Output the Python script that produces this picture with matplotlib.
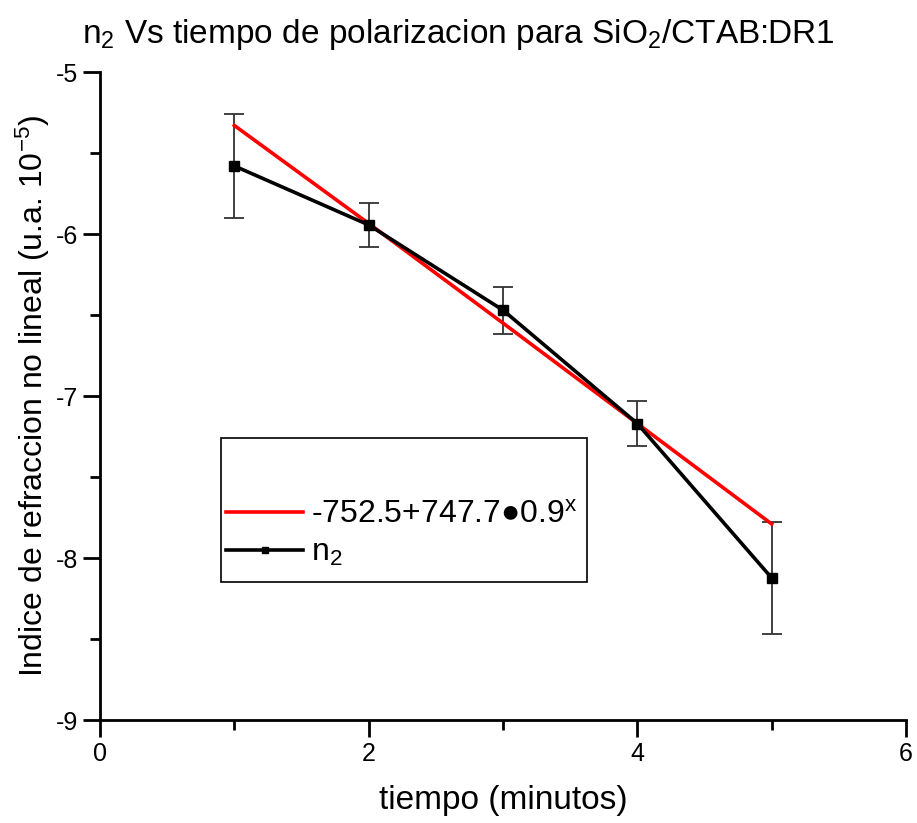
import matplotlib
matplotlib.use("Agg")
import matplotlib.pyplot as plt
from matplotlib.patches import Rectangle
from matplotlib.ticker import MultipleLocator

plt.rcParams['font.family'] = ['Liberation Sans', 'DejaVu Sans']
plt.rcParams['mathtext.fontset'] = 'custom'
plt.rcParams['mathtext.rm'] = 'Liberation Sans'
plt.rcParams['mathtext.it'] = 'Liberation Sans'
plt.rcParams['axes.unicode_minus'] = False

# data
tiempo = [1, 2, 3, 4, 5]
n2 = [-5.58, -5.944, -6.47, -7.17, -8.123]
n2_err = [0.32, 0.135, 0.145, 0.14, 0.345]
fit_x = [1, 2, 3, 4, 5]
fit_y = [-5.33, -5.935, -6.55, -7.17, -7.79]

fig = plt.figure(figsize=(9.17, 8.23), dpi=100)
ax = fig.add_axes([100/917, 1-720/823, 806/917, 648/823])

l_fit, = ax.plot(fit_x, fit_y, color='#ff0000', lw=2.6, zorder=3)
ax.errorbar(tiempo, n2, yerr=n2_err, fmt='none', ecolor='#333333', elinewidth=1.3,
            capsize=7, capthick=1.3, zorder=2)
l_n2, = ax.plot(tiempo, n2, color='black', lw=2.6, marker='s', ms=7, zorder=4)

ax.set_xlim(0, 6)
ax.set_ylim(-9, -5)
ax.xaxis.set_major_locator(MultipleLocator(2))
ax.xaxis.set_minor_locator(MultipleLocator(1))
ax.yaxis.set_major_locator(MultipleLocator(1))
ax.yaxis.set_minor_locator(MultipleLocator(0.5))
for s in ['top', 'right']:
    ax.spines[s].set_visible(False)
for s in ['left', 'bottom']:
    ax.spines[s].set_linewidth(2)
ax.tick_params(which='major', direction='out', length=12, width=2, labelsize=18, pad=4)
ax.tick_params(which='minor', direction='out', length=7, width=2)

ax.set_xlabel('tiempo (minutos)', fontsize=24)
ax.xaxis.set_label_coords(0.5, -(800-720)/648, transform=ax.transAxes)
ax.set_ylabel('Indice de refraccion no lineal (u.a. 10$^{-5}$)', fontsize=23)
ax.yaxis.set_label_coords(-(100-33)/806, 0.5)
ax.xaxis.label.set_va('center')
ax.yaxis.label.set_va('center')
fig.text(0.5, 1-35/823, 'n$_2$ Vs tiempo de polarizacion para SiO$_2$/CTAB:DR1',
         ha='center', va='center', fontsize=24)

# legend frame
ax.add_patch(Rectangle((0.150, 0.213), 0.454, 0.222, transform=ax.transAxes,
                       fill=False, edgecolor='black', lw=1.2, zorder=5))
ax.legend([l_fit, l_n2], ['-752.5+747.7\u25cf0.9$^{x}$', 'n$_2$'],
          loc='lower left', bbox_to_anchor=(0.129, 0.200), frameon=False,
          fontsize=23, handlelength=2.4, handletextpad=0.25, labelspacing=0.25,
          markerscale=0.6, borderaxespad=0.3)

fig.savefig('out.png', dpi=100)
